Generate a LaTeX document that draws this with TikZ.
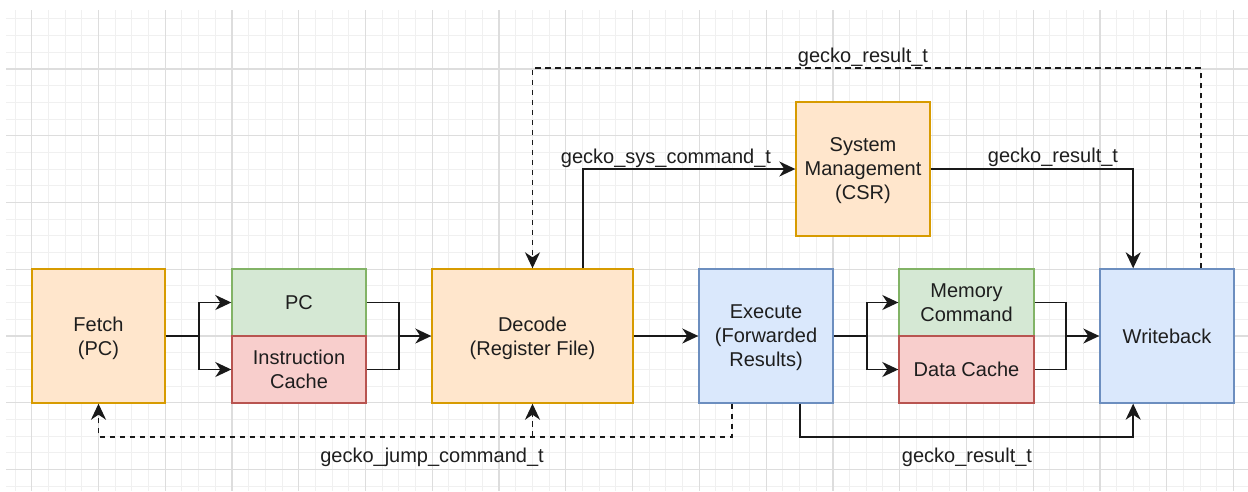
\documentclass[tikz,border=0pt]{standalone}
\usepackage{fontspec}
\setmainfont{Liberation Sans}
\usetikzlibrary{arrows.meta,calc}
\definecolor{orFill}{HTML}{FFE6CC}\definecolor{orLine}{HTML}{D79B00}
\definecolor{grFill}{HTML}{D5E8D4}\definecolor{grLine}{HTML}{82B366}
\definecolor{rdFill}{HTML}{F8CECC}\definecolor{rdLine}{HTML}{B85450}
\definecolor{blFill}{HTML}{DAE8FC}\definecolor{blLine}{HTML}{6C8EBF}
\definecolor{txt}{HTML}{1E1E1E}
\definecolor{gridMinor}{HTML}{F0F0F0}
\definecolor{gridMajor}{HTML}{DDDDDD}
\tikzset{
  blk/.style={draw, line width=1.4pt, inner sep=0pt, align=center, text=txt,
    text depth=0pt, font=\fontsize{20}{24}\selectfont},
  orange/.style={blk, fill=orFill, draw=orLine},
  green/.style={blk, fill=grFill, draw=grLine},
  red/.style={blk, fill=rdFill, draw=rdLine},
  blue/.style={blk, fill=blFill, draw=blLine},
  wire/.style={line width=1.7pt, draw=black!90},
  conn/.style={wire, -{Stealth[length=16pt, width=15pt, inset=5pt]}},
  dconn/.style={conn, dash pattern=on 5.5pt off 4.5pt},
  lbl/.style={anchor=base, text=txt, font=\fontsize{20}{24}\selectfont, inner sep=0pt}
}
\begin{document}
\begin{tikzpicture}[x=1pt,y=-1pt]
\useasboundingbox (0,0) rectangle (1248,491);
\fill[white] (0,0) rectangle (1248,491);
% grid
\begin{scope}
\clip (6,10) rectangle (1248,491);
\foreach \i in {-2,...,75} \draw[gridMinor, line width=1pt] ({31.7+16.69*\i},10) -- ++(0,481);
\foreach \j in {-4,...,26} \draw[gridMinor, line width=1pt] (6,{69+16.69*\j}) -- ++(1242,0);
\foreach \i in {-1,...,19} \draw[gridMajor, line width=1.2pt] ({31.7+66.77*\i},10) -- ++(0,481);
\foreach \j in {-1,...,7} \draw[gridMajor, line width=1.2pt] (6,{69+66.77*\j}) -- ++(1242,0);
\end{scope}
% blocks
\node[orange, minimum width=133pt, minimum height=134pt] (fetch) at (98.5,336) {Fetch\\(PC)};
\node[green, minimum width=134pt, minimum height=67pt] (pc) at (299,302.5) {PC};
\node[red, minimum width=134pt, minimum height=67pt] (ic) at (299,369.5) {Instruction\\Cache};
\node[orange, minimum width=201pt, minimum height=134pt] (decode) at (532.5,336) {Decode\\(Register File)};
\node[blue, minimum width=134pt, minimum height=134pt] (exec) at (766,336) {Execute\\(Forwarded\\Results)};
\node[green, minimum width=135pt, minimum height=67pt] (mem) at (966.5,302.5) {Memory\\Command};
\node[red, minimum width=135pt, minimum height=67pt] (dc) at (966.5,369.5) {Data Cache};
\node[blue, minimum width=134pt, minimum height=134pt] (wb) at (1167,336) {Writeback};
\node[orange, minimum width=134pt, minimum height=134pt] (sys) at (863,169) {System\\Management\\(CSR)};
% fetch -> pc / ic
\coordinate (s1) at ($(fetch.east)+(33.5,0)$);
\draw[wire] (fetch.east) -- (s1);
\draw[conn] (s1) |- (pc.west);
\draw[conn] (s1) |- (ic.west);
% pc / ic -> decode
\coordinate (m1) at ($(decode.west)+(-32,0)$);
\draw[wire] (pc.east) -| (m1);
\draw[wire] (ic.east) -| (m1);
\draw[conn] (m1) -- (decode.west);
% decode -> execute
\draw[conn] (decode.east) -- (exec.west);
% execute -> mem / dc
\coordinate (s2) at ($(exec.east)+(33.5,0)$);
\draw[wire] (exec.east) -- (s2);
\draw[conn] (s2) |- (mem.west);
\draw[conn] (s2) |- (dc.west);
% mem / dc -> writeback
\coordinate (m2) at ($(wb.west)+(-33,0)$);
\draw[wire] (mem.east) -| (m2);
\draw[wire] (dc.east) -| (m2);
\draw[conn] (m2) -- (wb.west);
% decode -> system
\coordinate (d3) at ($(decode.north west)!0.75!(decode.north east)$);
\draw[conn] (d3) |- (sys.west);
\node[lbl] (l1) at (666,163) {gecko\_sys\_command\_t};
% system -> writeback
\coordinate (w1) at ($(wb.north west)!0.25!(wb.north east)$);
\draw[conn] (sys.east) -| (w1);
\node[lbl] (l2) at (1053,162) {gecko\_result\_t};
% writeback -> decode (dashed)
\coordinate (w3) at ($(wb.north west)!0.75!(wb.north east)$);
\coordinate (top) at ($(w3)+(0,-200)$);
\draw[dconn] (w3) -- (top) -| (decode.north);
\node[lbl] (l3) at (863,62) {gecko\_result\_t};
% execute -> fetch / decode (dashed)
\coordinate (e1) at ($(exec.south west)!0.25!(exec.south east)$);
\coordinate (e1b) at ($(e1)+(0,33)$);
\draw[dconn] (e1) -- (e1b) -| (fetch.south);
\draw[dconn] (decode.south |- e1b) -- (decode.south);
\node[lbl] (l4) at (432,462) {gecko\_jump\_command\_t};
% execute -> writeback
\coordinate (e2) at ($(exec.south west)!0.75!(exec.south east)$);
\coordinate (w2) at ($(wb.south west)!0.25!(wb.south east)$);
\draw[conn] (e2) -- ++(0,33) -| (w2);
\node[lbl] (l5) at (967,462) {gecko\_result\_t};
\end{tikzpicture}
\end{document}
